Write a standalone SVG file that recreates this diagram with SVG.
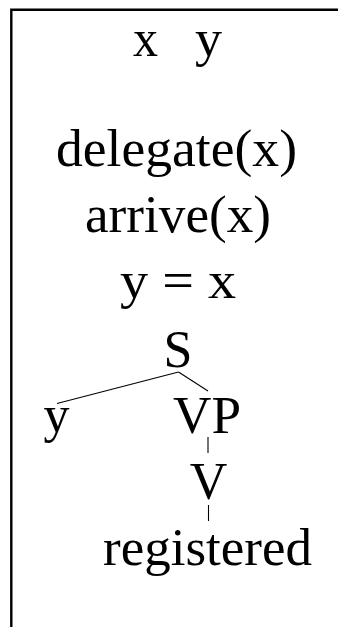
<svg xmlns="http://www.w3.org/2000/svg" width="338" height="627" viewBox="0 0 338 627">
<style>
text{font-family:"Liberation Serif","DejaVu Serif",serif;font-size:52px;fill:#000;text-anchor:middle}
.frame{stroke:#000;stroke-width:2.4;fill:none}
.edge{stroke:#000;stroke-width:1.1;fill:none}
</style>
<rect width="338" height="627" fill="#fff"/>
<g id="frame"><path class="frame" d="M11.3,627 V9.7 H338"/></g>
<g id="universe">
<text x="145.5" y="56" textLength="25" lengthAdjust="spacingAndGlyphs">x</text>
<text x="208.5" y="56" textLength="27" lengthAdjust="spacingAndGlyphs">y</text>
</g>
<g id="cond-delegate"><text x="176.5" y="166" textLength="241" lengthAdjust="spacingAndGlyphs">delegate(x)</text></g>
<g id="cond-arrive"><text x="178" y="232" textLength="186" lengthAdjust="spacingAndGlyphs">arrive(x)</text></g>
<g id="cond-eq"><text x="178" y="298" textLength="116" lengthAdjust="spacingAndGlyphs">y = x</text></g>
<g id="node-S"><text x="178" y="367">S</text></g>
<g id="node-y"><text x="56.5" y="432">y</text></g>
<g id="node-VP"><text x="207" y="433" textLength="68" lengthAdjust="spacingAndGlyphs">VP</text></g>
<g id="node-V"><text x="208.5" y="499">V</text></g>
<g id="node-registered"><text x="207.5" y="565" textLength="209" lengthAdjust="spacingAndGlyphs">registered</text></g>
<g id="connectors">
<line class="edge" x1="178.5" y1="372" x2="57" y2="403.5"/>
<line class="edge" x1="178.5" y1="372" x2="208" y2="391"/>
<line class="edge" x1="208" y1="437" x2="208" y2="453"/>
<line class="edge" x1="208.5" y1="505" x2="208.5" y2="521"/>
</g>
</svg>
